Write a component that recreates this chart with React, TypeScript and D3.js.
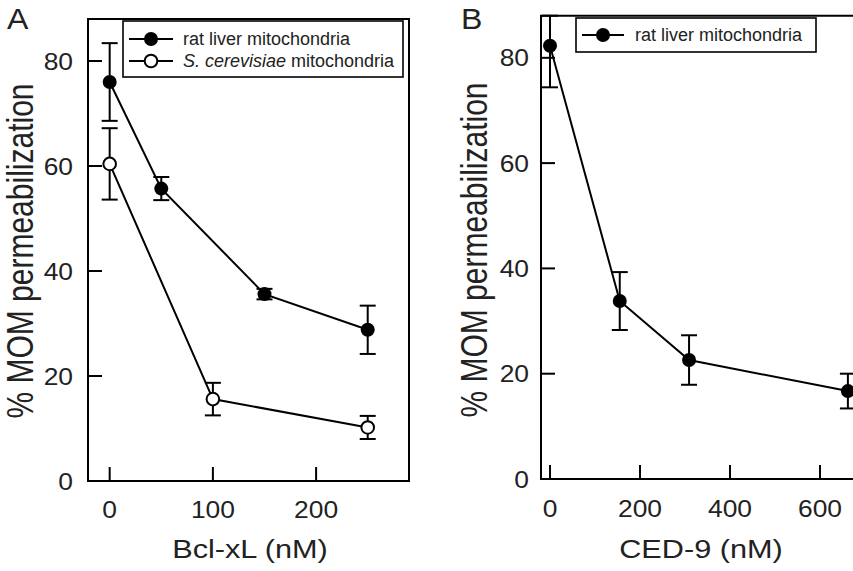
import React from "react";
import * as d3 from "d3";

// Panel A data (Bcl-xL)
const bclX = [0, 50, 150, 250];
const ratMean = [76, 55.7, 35.6, 28.8];
const ratErr = [7.4, 2.2, 1.0, 4.6];
const yeastX = [0, 100, 250];
const yeastMean = [60.4, 15.6, 10.2];
const yeastErr = [6.8, 3.1, 2.2];
const aXTicks = [0, 100, 200];

// Panel B data (CED-9)
const cedX = [0, 155, 309, 662];
const cedMean = [82.3, 33.8, 22.6, 16.7];
const cedErr = [7.9, 5.5, 4.7, 3.3];
const bXTicks = [0, 200, 400, 600];

const yTicks = [0, 20, 40, 60, 80];

const FONT = "'Liberation Sans', Arial, Helvetica, sans-serif";
const TXT = "#222";

type Series = { x: number[]; m: number[]; e: number[]; filled: boolean };

function STxt(props: {
  x: number; y: number; size: number; sx?: number; anchor?: string; rot?: boolean; sy?: number; children: React.ReactNode;
}) {
  const { x, y, size, sx = 1, sy = 1, anchor = "middle", rot = false } = props;
  const tr = rot
    ? `translate(${x},${y}) rotate(-90) scale(${sx},${sy})`
    : `translate(${x},${y}) scale(${sx},${sy})`;
  return (
    <text transform={tr} fontSize={size} fontFamily={FONT} fill={TXT} textAnchor={anchor as any}>
      {props.children}
    </text>
  );
}

function Panel(props: {
  xDom: [number, number]; xRange: [number, number]; yRange: [number, number];
  xTicks: number[]; series: Series[]; frameRight: boolean;
  yLabelX: number; xLabelY: number; titleX: number; titleY: number; title: string;
  yTitleX: number; yTitleY: number; letter: string; letterX: number; letterY: number;
  legend: React.ReactNode;
}) {
  const x = d3.scaleLinear().domain(props.xDom).range(props.xRange);
  const y = d3.scaleLinear().domain([0, 88]).range(props.yRange);
  const [x0, x1] = props.xRange;
  const [yb, yt] = props.yRange;
  const line = d3.line<number>();
  const tick = 14;
  return (
    <g>
      {/* frame */}
      <path
        d={props.frameRight
          ? `M${x0},${yt}H${x1}V${yb}H${x0}Z`
          : `M${x1 + 40},${yt}H${x0}V${yb}H${x1 + 40}`}
        fill="none" stroke="#000" strokeWidth={2}
      />
      {yTicks.map((t) => (
        <g key={"y" + t}>
          {t > 0 && <line x1={x0} x2={x0 + tick} y1={y(t)} y2={y(t)} stroke="#000" strokeWidth={2} />}
          <STxt x={props.yLabelX} y={y(t) + 8.5} size={24} sx={1.1} anchor="end">{t}</STxt>
        </g>
      ))}
      {props.xTicks.map((t) => (
        <g key={"x" + t}>
          <line x1={x(t)} x2={x(t)} y1={yb} y2={yb - tick} stroke="#000" strokeWidth={2} />
          <STxt x={x(t)} y={props.xLabelY} size={24} sx={1.1}>{t}</STxt>
        </g>
      ))}
      {props.series.map((s, i) => (
        <g key={"s" + i}>
          <path
            d={line(s.x.map((v, j) => [x(v), y(s.m[j])] as [number, number])) || ""}
            fill="none" stroke="#000" strokeWidth={2}
          />
          {s.x.map((v, j) => {
            const cx = x(v);
            const hi = y(Math.min(s.m[j] + s.e[j], 88));
            const lo = y(s.m[j] - s.e[j]);
            return (
              <g key={j}>
                <line x1={cx} x2={cx} y1={hi} y2={lo} stroke="#000" strokeWidth={2} />
                <line x1={cx - 8} x2={cx + 8} y1={hi} y2={hi} stroke="#000" strokeWidth={2} />
                <line x1={cx - 8} x2={cx + 8} y1={lo} y2={lo} stroke="#000" strokeWidth={2} />
              </g>
            );
          })}
          {s.x.map((v, j) => (
            <circle key={"c" + j} cx={x(v)} cy={y(s.m[j])} r={s.filled ? 7 : 6.3}
              fill={s.filled ? "#000" : "#fff"} stroke="#000" strokeWidth={s.filled ? 0 : 2} />
          ))}
        </g>
      ))}
      {props.legend}
      <STxt x={props.titleX} y={props.titleY} size={26} sx={1.18}>{props.title}</STxt>
      <STxt x={props.yTitleX} y={props.yTitleY} size={30} sy={1.2} rot>% MOM permeabilization</STxt>
      <STxt x={props.letterX} y={props.letterY} size={30} sx={1.07} anchor="start">{props.letter}</STxt>
    </g>
  );
}

function LegendRow(props: { x0: number; x1: number; y: number; filled: boolean; textX: number; children: React.ReactNode }) {
  const cx = (props.x0 + props.x1) / 2;
  return (
    <g>
      <line x1={props.x0} x2={props.x1} y1={props.y} y2={props.y} stroke="#000" strokeWidth={2} />
      <circle cx={cx} cy={props.y} r={props.filled ? 7 : 6.3} fill={props.filled ? "#000" : "#fff"}
        stroke="#000" strokeWidth={props.filled ? 0 : 2} />
      <text x={props.textX} y={props.y + 6} fontSize={18} fontFamily={FONT} fill={TXT}>{props.children}</text>
    </g>
  );
}

export default function App() {
  const legendA = (
    <g>
      <rect x={123} y={21} width={280} height={56} fill="#fff" stroke="#000" strokeWidth={1.6} />
      <LegendRow x0={129} x1={173} y={39} filled textX={183}>rat liver mitochondria</LegendRow>
      <LegendRow x0={129} x1={173} y={61} filled={false} textX={183}>
        <tspan fontStyle="italic">S. cerevisiae</tspan> mitochondria
      </LegendRow>
    </g>
  );
  const legendB = (
    <g>
      <rect x={576} y={18} width={240} height={34} fill="#fff" stroke="#000" strokeWidth={1.6} />
      <LegendRow x0={582} x1={624} y={35} filled textX={635}>rat liver mitochondria</LegendRow>
    </g>
  );
  return (
    <svg width={853} height={571} style={{ position: "absolute", left: 0, top: 0, background: "#fff" }}>
      <rect width={853} height={571} fill="#fff" />
      <Panel
        xDom={[-21, 290]} xRange={[88, 409]} yRange={[481, 19]} xTicks={aXTicks}
        series={[
          { x: bclX, m: ratMean, e: ratErr, filled: true },
          { x: yeastX, m: yeastMean, e: yeastErr, filled: false },
        ]}
        frameRight yLabelX={73} xLabelY={518} titleX={250} titleY={558} title="Bcl-xL (nM)"
        yTitleX={33} yTitleY={251} letter="A" letterX={7} letterY={29} legend={legendA}
      />
      <Panel
        xDom={[-20, 720]} xRange={[541, 874]} yRange={[479, 15.7]} xTicks={bXTicks}
        series={[{ x: cedX, m: cedMean, e: cedErr, filled: true }]}
        frameRight={false} yLabelX={529} xLabelY={517} titleX={701} titleY={558} title="CED-9 (nM)"
        yTitleX={487} yTitleY={250} letter="B" letterX={461} letterY={29} legend={legendB}
      />
    </svg>
  );
}
